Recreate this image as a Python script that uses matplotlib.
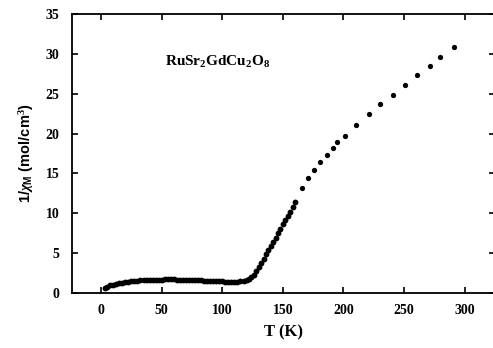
import matplotlib
matplotlib.use("Agg")
import matplotlib.pyplot as plt

# === DATA ===
# dense low-temperature sweep
T_dense = [3, 5, 7.5, 10, 12.5, 15, 17.5, 20, 22.5, 25, 27.5, 30, 32.5, 35, 37.5,
           40, 42.5, 45, 47.5, 50, 52.5, 55, 57.5, 60, 62.5, 65, 67.5, 70, 72.5,
           75, 77.5, 80, 82.5, 85, 87.5, 90, 92.5, 95, 97.5, 100, 102.5, 105,
           107.5, 110, 112.5, 115, 117.5, 120, 122, 124, 126, 128, 130, 132, 134,
           136, 138, 140, 142, 144, 146, 148, 150, 152, 154, 156, 158, 160]
inv_chi_dense = [0.6, 0.8, 0.95, 1.05, 1.15, 1.22, 1.3, 1.36, 1.42, 1.47, 1.5,
                 1.54, 1.57, 1.6, 1.62, 1.64, 1.66, 1.67, 1.68, 1.69, 1.7, 1.7,
                 1.7, 1.7, 1.69, 1.68, 1.67, 1.66, 1.65, 1.63, 1.62, 1.6, 1.58,
                 1.56, 1.54, 1.52, 1.5, 1.48, 1.46, 1.45, 1.44, 1.43, 1.42, 1.42,
                 1.43, 1.45, 1.5, 1.6, 1.75, 1.95, 2.3, 2.8, 3.3, 3.8, 4.3, 4.9,
                 5.4, 5.9, 6.4, 6.9, 7.5, 8.0, 8.6, 9.1, 9.6, 10.2, 10.8, 11.4]

# sparse high-temperature points
T_sparse = [166, 171, 176, 181, 186, 191, 195, 201, 210, 221, 230, 241, 251,
            261, 271, 280, 291]
inv_chi_sparse = [13.2, 14.4, 15.4, 16.4, 17.3, 18.2, 18.9, 19.7, 21.1, 22.4,
                  23.7, 24.9, 26.1, 27.3, 28.5, 29.6, 30.8]

x_ticks = [0, 50, 100, 150, 200, 250, 300]
y_ticks = [0, 5, 10, 15, 20, 25, 30, 35]

plt.rcParams["mathtext.fontset"] = "custom"
plt.rcParams["mathtext.rm"] = "Liberation Serif:bold"
plt.rcParams["mathtext.it"] = "Liberation Serif:italic:bold"
plt.rcParams["mathtext.bf"] = "Liberation Sans:bold"
plt.rcParams["mathtext.sf"] = "Liberation Sans:bold"

fig = plt.figure(figsize=(4.93, 3.48), dpi=100)
ax = fig.add_axes([72 / 493, 55 / 348, (495 - 72) / 493, (293 - 14) / 348])

ax.plot(T_dense, inv_chi_dense, "o", color="black", markersize=4.2,
        markeredgewidth=0)
ax.plot(T_sparse, inv_chi_sparse, "o", color="black", markersize=3.8,
        markeredgewidth=0)

ax.set_xlim(-24, 325)
ax.set_ylim(0, 35)
ax.set_xticks(x_ticks)
ax.set_yticks(y_ticks)
ax.tick_params(direction="in", top=True, right=True, length=4, width=1.2,
               labelsize=10)
ax.tick_params(axis="x", pad=8)
ax.tick_params(axis="y", pad=9)
for lbl in ax.get_xticklabels() + ax.get_yticklabels():
    lbl.set_fontfamily("Liberation Serif")
    lbl.set_fontweight("bold")
for sp in ax.spines.values():
    sp.set_linewidth(1.3)

ax.set_xlabel("T (K)", fontfamily="Liberation Serif", fontweight="bold",
              fontsize=12, labelpad=5)
ax.set_ylabel(r"1/$\chi_{\mathbf{M}}$ (mol/cm$^{3}$)", fontfamily="Liberation Sans",
              fontweight="bold", fontsize=10.5, labelpad=7)

ax.text(53, 29, r"RuSr$_{2}$GdCu$_{2}$O$_{8}$", fontfamily="Liberation Serif",
        fontweight="bold", fontsize=11, va="center", ha="left")

fig.savefig("out.png", dpi=100)
